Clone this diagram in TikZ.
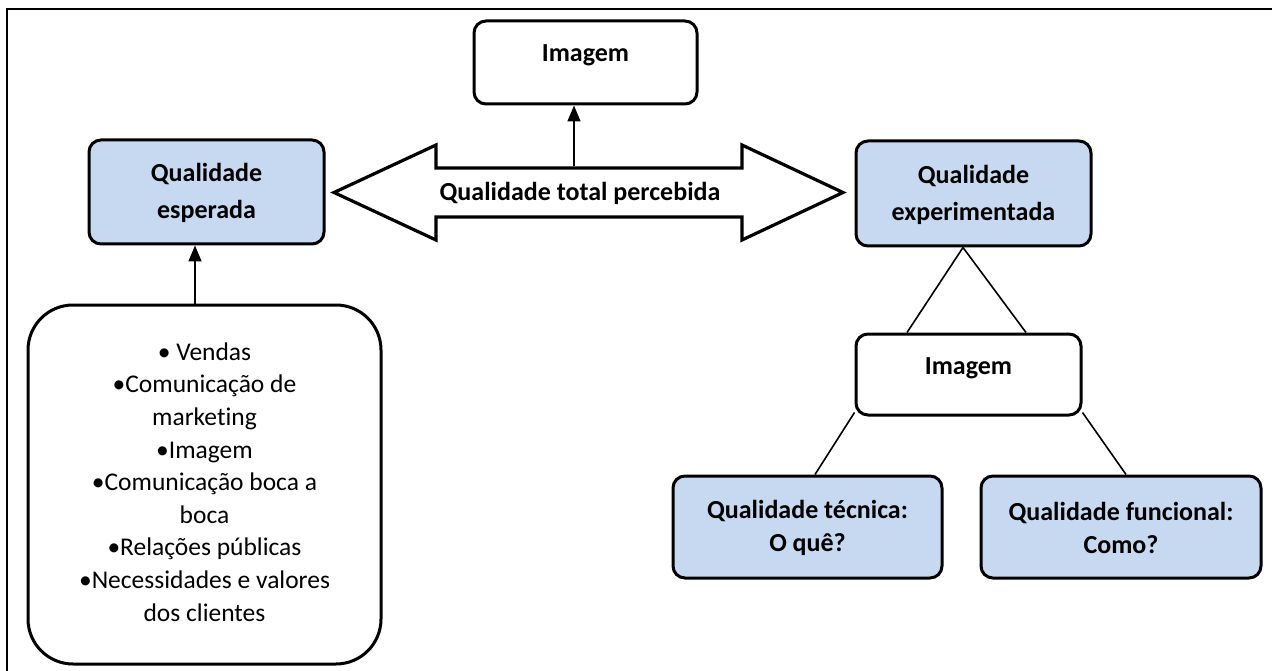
\documentclass[tikz,border=0pt]{standalone}
\usepackage{fontspec}
\setmainfont{Carlito}[Ligatures=NoCommon]
\usetikzlibrary{arrows.meta,calc}
\definecolor{boxblue}{RGB}{198,217,240}
\begin{document}
\begin{tikzpicture}[x=1pt,y=-1pt,
  boxbase/.style={draw=black,line width=3pt,rounded corners=12pt,inner sep=0pt},
  bluebox/.style={boxbase,fill=boxblue},
  whitebox/.style={boxbase,fill=white},
  btext/.style={font=\fontsize{26}{37}\selectfont\bfseries,align=center,inner sep=0pt},
  btextb/.style={font=\fontsize{26}{32.5}\selectfont\bfseries,align=center,inner sep=0pt},
  ltext/.style={font=\fontsize{25.5}{32.6}\selectfont,align=center,inner sep=0pt},
  conn/.style={draw=black,line width=1.6pt},
  arr/.style={conn,-{Triangle[width=13pt,length=16pt]}}
]
\useasboundingbox (0,0) rectangle (1272,671);
% frame
\draw[line width=2pt] (7,671) -- (7,9) -- (1272,9);

% boxes
\node[whitebox,minimum width=223,minimum height=83] (img) at (585.5,62.5) {};
\node[btext] (imgT) at (585.5,55) {Imagem};

\node[bluebox,minimum width=235,minimum height=104] (esp) at (206.5,192) {};
\node[btext] (espT) at (206.5,193) {Qualidade\\esperada};

\node[bluebox,minimum width=235,minimum height=105] (exp) at (973.5,193.5) {};
\node[btext] (expT) at (973.5,195) {Qualidade\\experimentada};

\node[whitebox,minimum width=225,minimum height=81] (mid) at (968.5,374.5) {};
\node[btext] (midT) at (968.5,368.5) {Imagem};

\node[bluebox,minimum width=269,minimum height=102] (tec) at (807.5,527) {};
\node[btextb] (tecT) at (807.5,528) {Qualidade técnica:\\O quê?};

\node[bluebox,minimum width=280,minimum height=102] (fun) at (1121,527) {};
\node[btextb] (funT) at (1121,528) {Qualidade funcional:\\Como?};

\node[whitebox,rounded corners=45pt,minimum width=353,minimum height=359] (lst) at (204.5,484.5) {};
\node[ltext] (lstT) at (204.5,482) {• Vendas\\•Comunicação de\\marketing\\•Imagem\\•Comunicação boca a\\boca\\•Relações públicas\\•Necessidades e valores\\dos clientes};

% double arrow
\draw[line width=3.2pt,line join=miter,fill=white]
  (334,192.5) -- (436,145) -- (436,168) -- (742,168) -- (742,145) -- (843,192.5)
  -- (742,240) -- (742,217) -- (436,217) -- (436,240) -- cycle;
\coordinate (shafttop) at (574,166);
\node[btext] (tqp) at (580,193) {Qualidade total percebida};

% connectors
\draw[arr] (shafttop) -- ([xshift=-11.5pt]img.south);
\draw[arr] ([xshift=-9.5pt]lst.north) -- ([xshift=-11.5pt]esp.south);
\draw[conn] ([xshift=-10.5pt]exp.south) -- ([xshift=-61.5pt]mid.north);
\draw[conn] ([xshift=-10.5pt]exp.south) -- ([xshift=57.5pt]mid.north);
\draw[conn] ([yshift=4pt]mid.south west) -- ([xshift=7.5pt]tec.north);
\draw[conn] ([yshift=4pt]mid.south east) -- ([xshift=5pt]fun.north);
\end{tikzpicture}
\end{document}
